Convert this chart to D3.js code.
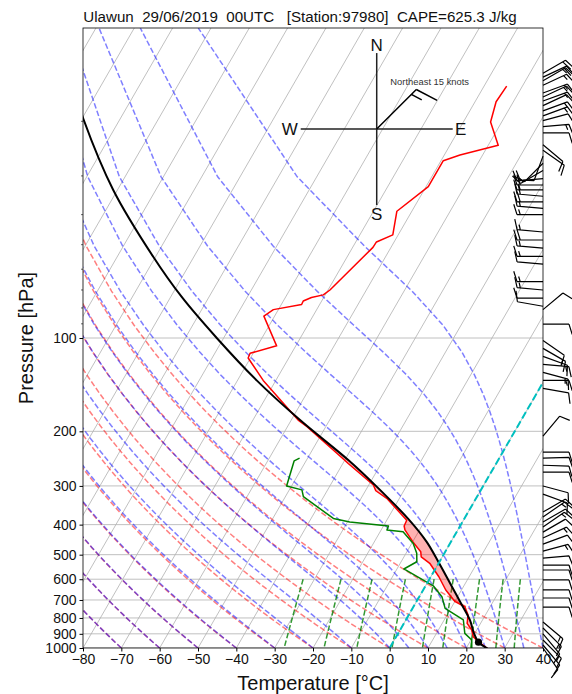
<!DOCTYPE html>
<html>
<head>
<meta charset="utf-8">
<script src="https://cdn.jsdelivr.net/npm/d3@7"></script>
<style>
  html, body { margin: 0; padding: 0; background: #fff; }
  svg { display: block; font-family: "Liberation Sans", Arial, sans-serif; }
</style>
</head>
<body>
<svg id="chart" width="572" height="694"></svg>
<script>
'use strict';

var TITLE = 'Ulawun  29/06/2019  00UTC   [Station:97980]  CAPE=625.3 J/kg';
var TEMP_TICKS = [-80, -70, -60, -50, -40, -30, -20, -10, 0, 10, 20, 30, 40];
var PRES_TICKS = [100, 200, 300, 400, 500, 600, 700, 800, 900, 1000];
var PRES_MINOR = [20, 30, 40, 50, 60, 70, 80, 90];

// temperature profile (hPa, degC), surface first
var TEMP_P = [1004, 954, 920, 875, 833, 783, 736, 709, 650, 589, 533, 508, 489, 454, 416, 404, 387,
  329, 311, 298, 254, 248, 193, 184, 137, 116, 112, 106, 85, 81, 78, 76, 74, 72.6, 70, 51, 49, 46.5,
  39, 32.5, 26.8, 25.7, 23.9, 20.1, 17.3, 15.4];
var TEMP_T = [25.6, 22.2, 20.1, 18.7, 16.5, 15.5, 13.4, 10.1, 5.9, 2.1, -2.3, -5.5, -6.4, -10.0, -13.8, -14.6, -14.8,
  -23.3, -27.3, -28.8, -38.6, -40.0, -55.0, -58.2, -73.3, -80.6, -80.8, -75.0, -82.8, -81.3, -74.7, -74.8, -73.2, -70.5, -69.5, -64.7, -64.6, -61.4,
  -63.9, -59.4, -59.4, -55.9, -47.4, -52.9, -54.5, -54.1];

// dewpoint profile
var DEW_P = [1004, 942, 897, 812, 745, 683, 630, 556, 527, 495, 460, 422, 416, 404, 392, 382, 325, 309, 300, 249, 244];
var DEW_T = [21.5, 20.2, 17.4, 15.0, 8.5, 5.9, 2.0, -8.2, -5.9, -7.2, -9.6, -14.0, -18.5, -18.7, -29.4, -34.2, -45.3, -46.7, -51.3, -53.1, -52.1];

// lifted parcel
var PARCEL_P = [1004, 958, 897, 812, 709, 618, 527, 454, 384, 300, 248, 184, 137, 100, 73.6, 54.7, 33.3, 19.7, 15];
var PARCEL_T = [25.6, 22.3, 19.8, 16.7, 11.4, 6.0, -0.3, -6.4, -14.5, -28.0, -39.0, -57.7, -75.0, -91.8, -107.2, -120.6, -141.1, -159.5, -168];
var LCL = { p: 958, t: 22.3 };

// wind barbs on the right edge: [hPa, direction from (deg), speed (kt)]
var BARB_P = [14.0, 14.4, 14.8, 15.3, 16.2, 16.7, 17.2, 17.8, 18.5, 19.2, 19.9, 20.8, 21.8,
  23.8, 24.8, 25.9, 27.3, 28.8,
  30.6, 32.1, 33.3, 34.9, 36.4, 38.2, 40.0, 45.5, 48.3, 51.3, 54.5, 57.8, 65.8, 70.0, 74.4, 79.0,
  81.0, 90.2, 101.8, 108.0, 114.6, 121.6, 129.1, 137.0, 145.4,
  207.3, 233.5, 244.2, 257.3, 270.8, 300.2, 318.8,
  364.4, 378.1, 392.5, 407.4, 422.9, 442.0, 462.1, 486.8,
  512.7, 540.0, 560.3, 603.3, 649.7, 689.7, 737.9,
  824.3, 861.8, 901.1, 942.3, 977.9, 1000];
var BARB_DIR = [60, 65, 60, 65, 70, 65, 70, 65, 70, 70, 75, 85, 90,
  130, 125, 200, 225, 240,
  265, 270, 270, 275, 270, 275, 270, 275, 270, 275, 270, 275, 270, 275, 270, 280,
  50, 90, 125, 120, 110, 95, 105, 90, 100,
  40, 90, 88, 92, 90, 105, 110,
  60, 55, 60, 55, 60, 65, 70, 75,
  85, 90, 90, 90, 90, 90, 90,
  130, 135, 140, 135, 140, 145];
var BARB_KT = [20, 20, 15, 15, 15, 15, 15, 10, 15, 15, 10, 15, 10,
  10, 10, 10, 10, 15,
  20, 20, 15, 20, 20, 15, 15, 15, 20, 15, 15, 10, 15, 15, 10, 10,
  10, 10, 10, 15, 10, 15, 15, 15, 10,
  10, 10, 10, 10, 10, 10, 10,
  10, 15, 10, 15, 10, 15, 10, 15,
  10, 10, 10, 10, 10, 10, 10,
  15, 15, 10, 15, 10, 10];

// background line families (MetPy defaults)
var DRY_T0 = [-80, -70, -60, -50, -40, -30, -20, -10, 0, 10, 20, 30, 40];
var MOIST_T0 = [-80, -70, -60, -50, -40, -30, -20, -10, 0, 5, 10, 15, 20, 25, 30, 35, 40];
var MIXING = [0.0004, 0.001, 0.002, 0.004, 0.007, 0.01, 0.016, 0.024, 0.032];

var COMPASS = { cx: 0.6385, cy: 0.163, arm: 76, label: 'Northeast 15 knots', dir: 45, kt: 15 };

// ---- layout ----
var M = { left: 83, top: 28, right: 543, bottom: 648 };
var SKEW = Math.tan(30 * Math.PI / 180);
var x = d3.scaleLinear().domain([-80, 40]).range([M.left, M.right]);
var y = d3.scaleLog().domain([1000, 10]).range([M.bottom, M.top]);
function sx(t, p) { return x(t) + (M.bottom - y(p)) * SKEW; }

// ---- thermodynamics for the background lines ----
var Rd = 287.04749, Cp = 1004.6662, Lv = 2.50084e6, EPS = 0.6219569, KAPPA = Rd / Cp;
function satVap(tk) { var tc = tk - 273.15; return 6.112 * Math.exp(17.67 * tc / (tc + 243.5)); }
function satMix(p, tk) { var e = satVap(tk); return EPS * e / (p - e); }
function moistSlope(lnp, tk) {
  var rs = satMix(Math.exp(lnp), tk);
  return (Rd * tk + Lv * rs) / (Cp + Lv * Lv * rs * EPS / (Rd * tk * tk));
}
function linspace(a, b, n) { return d3.range(n).map(function (i) { return a + (b - a) * i / (n - 1); }); }

var ADIABAT_P = linspace(1000, 10, 50);
var MIX_P = linspace(600, 1000, 50);

function dryLine(t0) {
  return ADIABAT_P.map(function (p) { return [(t0 + 273.15) * Math.pow(p / 1000, KAPPA) - 273.15, p]; });
}
function moistLine(t0) {
  var tk = t0 + 273.15;
  var out = [[t0, ADIABAT_P[0]]];
  for (var i = 1; i < ADIABAT_P.length; i++) {
    var a = Math.log(ADIABAT_P[i - 1]), b = Math.log(ADIABAT_P[i]);
    var n = 10, h = (b - a) / n, lp = a;
    for (var k = 0; k < n; k++) {
      var k1 = moistSlope(lp, tk);
      var k2 = moistSlope(lp + h / 2, tk + h / 2 * k1);
      var k3 = moistSlope(lp + h / 2, tk + h / 2 * k2);
      var k4 = moistSlope(lp + h, tk + h * k3);
      tk += h / 6 * (k1 + 2 * k2 + 2 * k3 + k4);
      lp += h;
    }
    out.push([tk - 273.15, ADIABAT_P[i]]);
  }
  return out;
}
function mixLine(w) {
  return MIX_P.map(function (p) {
    var e = p * w / (EPS + w);
    var l = Math.log(e / 6.112);
    return [243.5 * l / (17.67 - l), p];
  });
}

// ---- drawing ----
var svg = d3.select('#chart');
svg.append('defs').append('clipPath').attr('id', 'plotclip')
  .append('rect')
  .attr('x', M.left).attr('y', M.top)
  .attr('width', M.right - M.left).attr('height', M.bottom - M.top);

var plot = svg.append('g').attr('clip-path', 'url(#plotclip)');
var line = d3.line().x(function (d) { return sx(d[0], d[1]); }).y(function (d) { return y(d[1]); });

// skewed isotherms
d3.range(-190, 41, 10).forEach(function (t) {
  plot.append('line')
    .attr('x1', sx(t, 1000)).attr('y1', y(1000))
    .attr('x2', sx(t, 10)).attr('y2', y(10))
    .style('stroke', '#b0b0b0').style('stroke-width', 0.8);
});
// isobars
PRES_TICKS.forEach(function (p) {
  plot.append('line')
    .attr('x1', M.left).attr('x2', M.right)
    .attr('y1', y(p)).attr('y2', y(p))
    .style('stroke', '#b0b0b0').style('stroke-width', 0.8);
});

DRY_T0.forEach(function (t0) {
  plot.append('path').attr('d', line(dryLine(t0)))
    .style('fill', 'none').style('stroke', 'red').style('stroke-opacity', 0.5)
    .style('stroke-width', 1.5).style('stroke-dasharray', '5.55,2.4');
});
MOIST_T0.forEach(function (t0) {
  plot.append('path').attr('d', line(moistLine(t0)))
    .style('fill', 'none').style('stroke', 'blue').style('stroke-opacity', 0.5)
    .style('stroke-width', 1.5).style('stroke-dasharray', '5.55,2.4');
});
MIXING.forEach(function (w) {
  plot.append('path').attr('d', line(mixLine(w)))
    .style('fill', 'none').style('stroke', '#008000').style('stroke-opacity', 0.8)
    .style('stroke-width', 1.5).style('stroke-dasharray', '5.55,2.4');
});

// CAPE shading between parcel and environment
function interpLog(ps, ts, p) {
  for (var i = 0; i < ps.length - 1; i++) {
    var a = ps[i], b = ps[i + 1];
    if ((p <= a && p >= b)) {
      var f = (Math.log(a) - Math.log(p)) / (Math.log(a) - Math.log(b));
      return ts[i] + f * (ts[i + 1] - ts[i]);
    }
  }
  return NaN;
}
var levels = Array.from(new Set(TEMP_P.concat(PARCEL_P)))
  .filter(function (p) { return p <= 1004 && p >= 150; })
  .sort(function (a, b) { return b - a; });
var rows = [];
levels.forEach(function (p, i) {
  var row = { p: p, t: interpLog(TEMP_P, TEMP_T, p), tp: interpLog(PARCEL_P, PARCEL_T, p) };
  if (i > 0) {
    var prev = rows[rows.length - 1];
    var d0 = prev.tp - prev.t, d1 = row.tp - row.t;
    if (d0 * d1 < 0) {
      var f = d0 / (d0 - d1);
      var lp = Math.log(prev.p) + f * (Math.log(p) - Math.log(prev.p));
      var tc = prev.t + f * (row.t - prev.t);
      rows.push({ p: Math.exp(lp), t: tc, tp: tc });
    }
  }
  rows.push(row);
});
plot.append('path')
  .datum(rows)
  .attr('d', d3.area()
    .defined(function (d) { return d.tp >= d.t; })
    .y(function (d) { return y(d.p); })
    .x0(function (d) { return sx(d.t, d.p); })
    .x1(function (d) { return sx(d.tp, d.p); }))
  .style('fill', 'red').style('fill-opacity', 0.3).style('stroke', 'none');

// environment, dewpoint and parcel
function pairs(ps, ts) { return ps.map(function (p, i) { return [ts[i], p]; }); }
plot.append('path').attr('d', line(pairs(TEMP_P, TEMP_T)))
  .style('fill', 'none').style('stroke', 'red').style('stroke-width', 1.5).style('stroke-linejoin', 'round');
plot.append('path').attr('d', line(pairs(DEW_P, DEW_T)))
  .style('fill', 'none').style('stroke', 'green').style('stroke-width', 1.5).style('stroke-linejoin', 'round');
plot.append('path').attr('d', line.curve(d3.curveCatmullRom)(pairs(PARCEL_P, PARCEL_T)))
  .style('fill', 'none').style('stroke', 'black').style('stroke-width', 2);
line.curve(d3.curveLinear);

// 0 degC isotherm
plot.append('line')
  .attr('x1', sx(0, 1000)).attr('y1', y(1000))
  .attr('x2', sx(0, 10)).attr('y2', y(10))
  .style('stroke', '#00bfbf').style('stroke-width', 2).style('stroke-dasharray', '7.4,3.2');

plot.append('circle')
  .attr('cx', sx(LCL.t, LCL.p)).attr('cy', y(LCL.p)).attr('r', 3.6)
  .style('fill', 'black');

// compass rose
var cxp = M.left + COMPASS.cx * (M.right - M.left);
var cyp = M.top + COMPASS.cy * (M.bottom - M.top);
var rose = svg.append('g');
rose.append('line').attr('x1', cxp).attr('x2', cxp).attr('y1', cyp - COMPASS.arm).attr('y2', cyp + COMPASS.arm)
  .style('stroke', '#222').style('stroke-width', 1.5);
rose.append('line').attr('x1', cxp - COMPASS.arm).attr('x2', cxp + COMPASS.arm).attr('y1', cyp).attr('y2', cyp)
  .style('stroke', '#222').style('stroke-width', 1.5);
[['N', 0, -84], ['S', 0, 85], ['W', -87, 0], ['E', 84, 0]].forEach(function (d) {
  rose.append('text')
    .attr('x', cxp + d[1]).attr('y', cyp + d[2])
    .attr('text-anchor', 'middle').attr('dominant-baseline', 'central')
    .style('font-size', '17px').style('fill', '#111')
    .text(d[0]);
});
rose.append('text')
  .attr('x', cxp + 53).attr('y', cyp - 44.5)
  .attr('text-anchor', 'middle')
  .style('font-size', '9.4px').style('fill', '#333')
  .text(COMPASS.label);

function drawBarb(g, bx, by, dirDeg, kt, len, width) {
  var th = dirDeg * Math.PI / 180;
  var dx = Math.sin(th), dy = -Math.cos(th);
  var px = -dy, py = dx;
  var tx = bx + dx * len, ty = by + dy * len;
  var spd = Math.round(kt / 5) * 5;
  var nflag = Math.floor(spd / 50); spd -= nflag * 50;
  var nfull = Math.floor(spd / 10); spd -= nfull * 10;
  var half = spd >= 5;
  var h = 0.4 * len, w = 0.25 * len, sp = 0.125 * len;
  var d = 'M' + bx + ',' + by + 'L' + tx + ',' + ty;
  var s = 0;
  var flags = '';
  for (var i = 0; i < nflag; i++) {
    var ax = tx - dx * s, ay = ty - dy * s;
    flags += 'M' + ax + ',' + ay + 'L' + (ax + px * h - dx * w / 2) + ',' + (ay + py * h - dy * w / 2) +
      'L' + (ax - dx * w) + ',' + (ay - dy * w) + 'Z';
    s += w + sp;
  }
  for (var j = 0; j < nfull; j++) {
    var fx = tx - dx * s, fy = ty - dy * s;
    d += 'M' + fx + ',' + fy + 'L' + (fx + px * h + dx * w / 2) + ',' + (fy + py * h + dy * w / 2);
    s += sp;
  }
  if (half) {
    if (nflag === 0 && nfull === 0) s += sp;
    var hx = tx - dx * s, hy = ty - dy * s;
    d += 'M' + hx + ',' + hy + 'L' + (hx + px * h / 2 + dx * w / 4) + ',' + (hy + py * h / 2 + dy * w / 4);
  }
  g.append('path').attr('d', d)
    .style('fill', 'none').style('stroke', 'black').style('stroke-width', width)
    .style('stroke-linecap', 'butt');
  if (flags) g.append('path').attr('d', flags).style('fill', 'black');
}

drawBarb(rose, cxp, cyp, COMPASS.dir, COMPASS.kt, 56, 1.5);

// wind barbs beside the right spine
var barbs = svg.append('g');
BARB_P.forEach(function (p, i) {
  drawBarb(barbs, M.right, y(p), BARB_DIR[i], BARB_KT[i], 26, 1.2);
});

// frame and axes
svg.append('rect')
  .attr('x', M.left).attr('y', M.top)
  .attr('width', M.right - M.left).attr('height', M.bottom - M.top)
  .style('fill', 'none').style('stroke', 'black').style('stroke-width', 0.8);

var xAxis = svg.append('g').attr('transform', 'translate(0,' + M.bottom + ')')
  .call(d3.axisBottom(x).tickValues(TEMP_TICKS).tickSize(3.5).tickPadding(2.5)
    .tickFormat(function (t) { return t < 0 ? '\u2212' + Math.abs(t) : String(t); }));
xAxis.select('.domain').remove();
xAxis.selectAll('text').style('font-size', '14px').style('font-family', '"Liberation Sans", Arial, sans-serif').style('fill', '#111');

var yAxis = svg.append('g').attr('transform', 'translate(' + M.left + ',0)')
  .call(d3.axisLeft(y).tickValues(PRES_TICKS).tickSize(3.5).tickPadding(3).tickFormat(d3.format('d')));
yAxis.select('.domain').remove();
yAxis.selectAll('text').style('font-size', '14px').style('font-family', '"Liberation Sans", Arial, sans-serif').style('fill', '#111');
PRES_MINOR.forEach(function (p) {
  svg.append('line').attr('x1', M.left - 2).attr('x2', M.left)
    .attr('y1', y(p)).attr('y2', y(p))
    .style('stroke', 'black').style('stroke-width', 0.6);
});

// title: keep the double spaces, fit to the width seen in the reference
var title = svg.append('text')
  .attr('x', 300).attr('y', 22)
  .attr('text-anchor', 'middle')
  .attr('xml:space', 'preserve')
  .style('font-size', '15px').style('white-space', 'pre').style('fill', '#111')
  .text(TITLE);
var tlen = title.node().getComputedTextLength();
if (tlen > 0) title.style('font-size', (15 * 434 / tlen).toFixed(2) + 'px');

svg.append('text')
  .attr('x', (M.left + M.right) / 2).attr('y', 690)
  .attr('text-anchor', 'middle')
  .style('font-size', '20px').style('fill', '#111')
  .text('Temperature [\u00b0C]');
svg.append('text')
  .attr('transform', 'translate(33,' + ((M.top + M.bottom) / 2) + ') rotate(-90)')
  .attr('text-anchor', 'middle')
  .style('font-size', '20px').style('fill', '#111')
  .text('Pressure [hPa]');
</script>
</body>
</html>
